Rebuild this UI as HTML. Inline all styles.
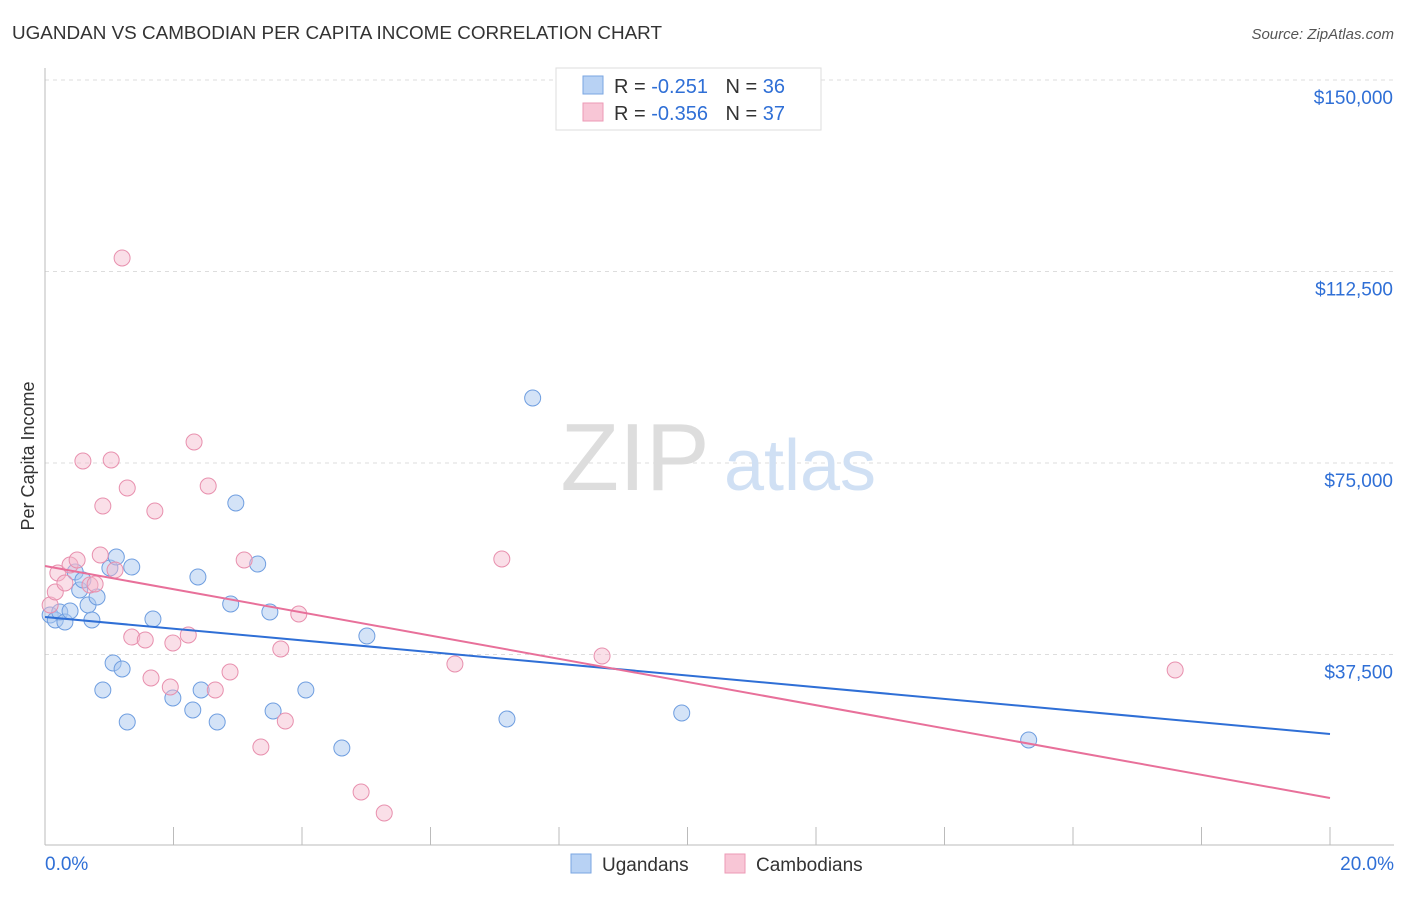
<!DOCTYPE html>
<html><head><meta charset="utf-8"><style>
body{margin:0;background:#fff;font-family:"Liberation Sans",sans-serif;}
svg text{font-family:"Liberation Sans",sans-serif;}
</style></head><body>
<svg width="1406" height="892" viewBox="0 0 1406 892" xmlns="http://www.w3.org/2000/svg">
<text x="12" y="39" font-size="18" fill="#333" textLength="650" lengthAdjust="spacingAndGlyphs">UGANDAN VS CAMBODIAN PER CAPITA INCOME CORRELATION CHART</text>
<text x="1394" y="39" font-size="15" fill="#555" font-style="italic" text-anchor="end">Source: ZipAtlas.com</text>
<g id="grid"></g>
<g>
<text x="635" y="490" font-size="96" fill="#ddd" font-family="Liberation Serif" text-anchor="middle">ZIP</text>
<text x="800" y="490" font-size="72" fill="#d0e0f4" text-anchor="middle">atlas</text>
</g>
<text transform="translate(34,456) rotate(-90)" font-size="18" fill="#333" text-anchor="middle">Per Capita Income</text>
<g id="points"></g>
<g id="lines"></g>
<g>
<rect x="556" y="68" width="265" height="62" fill="#fff" stroke="#ddd"/>
<rect x="583" y="76" width="20" height="18" fill="#b8d2f4" stroke="#7aa6e2"/>
<text x="614" y="93" font-size="20" fill="#333">R = <tspan fill="#2f6fd6">-0.251</tspan>  <tspan dx="12">N = </tspan><tspan fill="#2f6fd6">36</tspan></text>
<rect x="583" y="103" width="20" height="18" fill="#f8c6d6" stroke="#ec9ab6"/>
<text x="614" y="120" font-size="20" fill="#333">R = <tspan fill="#2f6fd6">-0.356</tspan>  <tspan dx="12">N = </tspan><tspan fill="#2f6fd6">37</tspan></text>
</g>
<g>
<rect x="571" y="854" width="20" height="19" fill="#b8d2f4" stroke="#7aa6e2"/>
<text x="602" y="871" font-size="19" fill="#333">Ugandans</text>
<rect x="725" y="854" width="20" height="19" fill="#f8c6d6" stroke="#ec9ab6"/>
<text x="756" y="871" font-size="19" fill="#333">Cambodians</text>
</g>
</svg>
<script>
const yTicks=[37500,75000,112500,150000];
const yTickLabels=["$37,500","$75,000","$112,500","$150,000"];
const xTickLabels=["0.0%","20.0%"];
const blueX=[0.08,0.16,0.23,0.31,0.39,0.47,0.54,0.59,0.67,0.73,0.81,0.90,1.01,1.06,1.11,1.20,1.28,1.35,1.68,1.99,2.30,2.38,2.43,2.68,2.89,2.97,3.31,3.50,3.55,4.06,4.62,5.01,7.19,7.59,9.91,15.31];
const blueY=[45234,44255,45822,43864,46018,53655,50130,52088,47193,44255,48759,30548,54438,35835,56592,34660,24282,54634,44451,28982,26632,52676,30548,24282,47389,67166,55221,45822,26436,30548,19190,41122,24869,87727,26044,20757];
const pinkX=[0.08,0.16,0.20,0.31,0.39,0.50,0.59,0.70,0.78,0.86,0.90,1.03,1.09,1.20,1.28,1.35,1.56,1.65,1.71,1.95,1.99,2.23,2.32,2.54,2.65,2.88,3.10,3.36,3.67,3.74,3.95,4.92,5.28,6.38,7.11,8.67,17.59];
const pinkY=[47193,49738,53459,51501,55025,56005,75391,51109,51305,56984,66579,75587,54046,115142,70104,40926,40339,32898,65600,31135,39752,41318,79111,70495,30548,34073,56005,19386,38577,24478,45430,10574,6462,35639,56201,37206,34464];
const blueTrend=[44843,21932];
const pinkTrend=[54830,9399];
const NS="http://www.w3.org/2000/svg";
const xs=v=>45+v/20*1285;
const ys=v=>846-v/37500*191.5;
function mk(t,a,p){const e=document.createElementNS(NS,t);for(const k in a)e.setAttribute(k,a[k]);p.appendChild(e);return e;}
const grid=document.getElementById('grid');
yTicks.forEach((t,i)=>{
 const l=mk('line',{x1:45,x2:1394,y1:ys(t),y2:ys(t),stroke:'#ddd','stroke-dasharray':'4,4'},grid);
 
 
 const tx=mk('text',{x:1393,y:ys(t)+24,'font-size':19,fill:'#2f6fd6','text-anchor':'end'},grid);
 tx.textContent=yTickLabels[i];
 
 
});
const ax=mk('line',{x1:45,x2:1394,y1:845,y2:845,stroke:'#bbb'},grid);


const ay=mk('line',{x1:45,x2:45,y1:68,y2:845,stroke:'#bbb'},grid);


for(let i=1;i<=10;i++){
 const t=mk('line',{x1:xs(i*2),x2:xs(i*2),y1:827,y2:845,stroke:'#bbb'},grid);
 
 
}
const xl0=mk('text',{x:45,y:870,'font-size':19,fill:'#2f6fd6'},grid);xl0.textContent=xTickLabels[0];


const xl1=mk('text',{x:1394,y:870,'font-size':19,fill:'#2f6fd6','text-anchor':'end'},grid);xl1.textContent=xTickLabels[1];


const pts=document.getElementById('points');
blueX.forEach((x,i)=>{
 const c=mk('circle',{cx:xs(x),cy:ys(blueY[i]),r:8,fill:'rgba(169,200,240,0.5)',stroke:'#6f9ee0','stroke-width':1},pts);
 
 
});
pinkX.forEach((x,i)=>{
 const c=mk('circle',{cx:xs(x),cy:ys(pinkY[i]),r:8,fill:'rgba(245,184,204,0.45)',stroke:'#e890ae','stroke-width':1},pts);
 
 
});
const ln=document.getElementById('lines');
const bl=mk('line',{x1:xs(0),y1:ys(blueTrend[0]),x2:xs(20),y2:ys(blueTrend[1]),stroke:'#2f6fd6','stroke-width':2},ln);


const pl=mk('line',{x1:xs(0),y1:ys(pinkTrend[0]),x2:xs(20),y2:ys(pinkTrend[1]),stroke:'#e8709a','stroke-width':2},ln);


</script>
</body></html>
